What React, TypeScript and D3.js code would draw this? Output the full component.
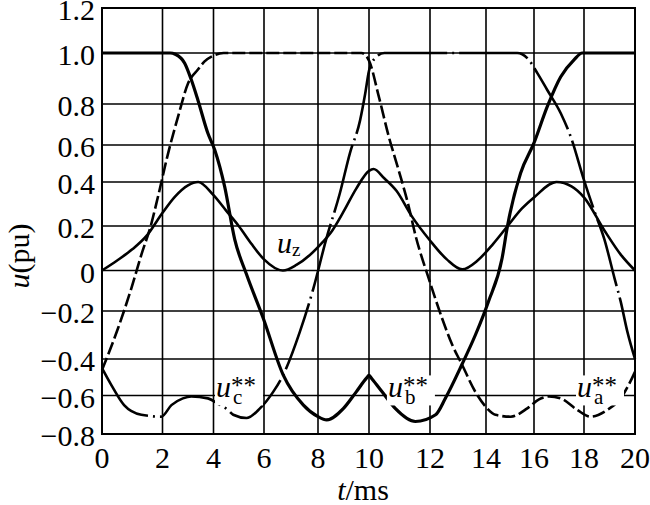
import React from "react";
import * as d3 from "d3";

const W = 650;
const H = 505;

const xTicks = [0, 2, 4, 6, 8, 10, 12, 14, 16, 18, 20];
const yTicks = [1.2, 1.0, 0.8, 0.6, 0.4, 0.2, 0, -0.2, -0.4, -0.6, -0.8];

// the scanned grid is not evenly spaced, so the scales follow it piece by piece
const xGrid = [102, 162.5, 213.5, 264, 318, 369, 430, 486, 534, 584, 635];
const yGrid = [8, 53, 104, 145, 182, 226, 270.5, 311, 359, 395.5, 434];

// u_z (zero sequence)
const uz: [number, number][] = [
  [0, 0], [0.5, 0.045], [1, 0.095], [1.5, 0.16], [2, 0.26], [2.5, 0.335], [3, 0.385],
  [3.4, 0.4], [4, 0.34], [4.5, 0.27], [5, 0.2], [5.5, 0.12], [6, 0.05], [6.7, 0],
  [7.2, 0.025], [7.7, 0.07], [8.2, 0.13], [8.5, 0.17], [9, 0.265], [9.5, 0.37],
  [10, 0.46], [10.15, 0.47], [10.5, 0.42], [10.9, 0.36], [11.4, 0.245], [12, 0.135],
  [12.6, 0.05], [13.15, 0.005], [13.7, 0.045], [14.3, 0.12], [14.9, 0.2], [15.5, 0.28],
  [16, 0.33], [16.9, 0.4], [17.5, 0.38], [18, 0.33], [18.8, 0.18], [19.45, 0.07], [20, 0],
];

// u_b** (thick solid)
const ub: [number, number][] = [
  [0, 1], [2.3, 1], [2.5, 0.995], [2.87, 0.96], [3.13, 0.895], [3.39, 0.815],
  [3.78, 0.657], [4.05, 0.573], [4.44, 0.38], [4.84, 0.14], [5.31, -0.02], [5.97, -0.23],
  [6.71, -0.487], [7.46, -0.65], [8.0, -0.71], [8.34, -0.727], [9.0, -0.667],
  [9.5, -0.58], [9.9, -0.505], [10, -0.49], [10.1, -0.51], [10.43, -0.58], [10.86, -0.667],
  [11.52, -0.735], [12.2, -0.7], [12.55, -0.614], [13.14, -0.43], [13.62, -0.3],
  [14.1, -0.154], [14.67, 0.055], [14.89, 0.197], [15.44, 0.447], [16, 0.61],
  [16.53, 0.787], [17.07, 0.907], [17.6, 0.973], [17.93, 1.0], [20, 1],
];

// u_a** (dashed)
const ua: [number, number][] = [
  [0, -0.46], [0.53, -0.272], [0.97, -0.088], [1.3, 0.07], [1.63, 0.21], [1.85, 0.333],
  [2.22, 0.555], [2.61, 0.738], [3.0, 0.88], [3.39, 0.935], [3.64, 0.966], [4.0, 0.99],
  [4.4, 1.0], [9.7, 1.0], [10.0, 0.97], [10.32, 0.83], [10.65, 0.64], [10.97, 0.465],
  [11.3, 0.29], [11.52, 0.16], [11.96, -0.04], [12.43, -0.23], [12.79, -0.34],
  [13.14, -0.43], [13.62, -0.58], [14.0, -0.66], [14.39, -0.7], [15.03, -0.71],
  [15.72, -0.667], [16.2, -0.62], [16.6, -0.605], [17.07, -0.615], [17.73, -0.675],
  [18.26, -0.71], [18.91, -0.675], [19.44, -0.615], [19.83, -0.52], [20, -0.47],
];

// u_c** (dash-dot)
const uc: [number, number][] = [
  [0, -0.45], [0.31, -0.543], [0.73, -0.65], [1.3, -0.7], [1.96, -0.71], [2.35, -0.65],
  [2.8, -0.615], [3.13, -0.605], [3.78, -0.615], [4.2, -0.645], [4.57, -0.675],
  [4.78, -0.7], [5.31, -0.717], [5.84, -0.667], [6.34, -0.58], [6.71, -0.487],
  [7.33, -0.286], [7.83, -0.088], [8.32, 0.14], [8.86, 0.35], [9.25, 0.555],
  [9.65, 0.72], [9.85, 0.84], [10.0, 0.93], [10.2, 0.98], [10.5, 1.0], [15.3, 1.0],
  [15.72, 0.98], [16.14, 0.92], [16.53, 0.855], [17.07, 0.755], [17.47, 0.64],
  [18, 0.41], [18.4, 0.27], [18.8, 0.14], [19.2, -0.04], [19.44, -0.154],
  [19.7, -0.286], [20, -0.4],
];

const labels = [
  { t: 4.1, u: -0.61, sub: "c" },
  { t: 10.62, u: -0.61, sub: "b" },
  { t: 17.72, u: -0.61, sub: "a" },
];

const FONT = "Liberation Serif, Times New Roman, DejaVu Serif, serif";

const fmtY = (v: number) => (v === 0 ? "0" : v < 0 ? "\u2212" + Math.abs(v).toFixed(1) : v.toFixed(1));

export default function App() {
  const x = d3.scaleLinear().domain(xTicks).range(xGrid);
  const y = d3.scaleLinear().domain(yTicks).range(yGrid);

  const line = d3
    .line<[number, number]>()
    .x((d) => x(d[0]))
    .y((d) => y(d[1]))
    .curve(d3.curveMonotoneX);

  const x0 = x(0), x1 = x(20), yTop = y(1.2), yBot = y(-0.8);

  return (
    <svg width={W} height={H} style={{ position: "absolute", left: 0, top: 0, background: "#fff", fontFamily: FONT }}>
      <rect width={W} height={H} fill="#fff" />
      <g stroke="#000" strokeWidth={1.6}>
        {xTicks.map((t) => (
          <line key={"gx" + t} x1={x(t)} x2={x(t)} y1={yTop} y2={yBot} />
        ))}
        {yTicks.map((v) => (
          <line key={"gy" + v} x1={x0} x2={x1} y1={y(v)} y2={y(v)} />
        ))}
        <rect x={x0} y={yTop} width={x1 - x0} height={yBot - yTop} fill="none" strokeWidth={2} />
      </g>

      <g fill="none" stroke="#000" strokeLinejoin="round">
        <path d={line(uz) ?? ""} strokeWidth={2.6} />
        <path d={line(ua) ?? ""} strokeWidth={2.6} strokeDasharray="13 4" />
        <path d={line(uc) ?? ""} strokeWidth={2.6} strokeDasharray="70 5 2 5" />
        <path d={line(ub) ?? ""} strokeWidth={3.2} />
      </g>

      <g fontSize={30} fill="#000">
        {yTicks.map((v) => (
          <text key={"ty" + v} x={95} y={y(v) + 12} textAnchor="end">
            {fmtY(v)}
          </text>
        ))}
        {xTicks.map((t) => (
          <text key={"tx" + t} x={x(t)} y={468} textAnchor="middle">
            {t}
          </text>
        ))}
        <text x={363} y={500} textAnchor="middle">
          <tspan fontStyle="italic">t</tspan>/ms
        </text>
        <text transform={`translate(29,256) rotate(-90)`} textAnchor="middle">
          <tspan fontStyle="italic">u</tspan>(pu)
        </text>
      </g>

      <g fill="#000">
        <text x={x(6.48)} y={y(0.08)} fontSize={30}>
          <tspan fontStyle="italic">u</tspan>
          <tspan fontSize={19} dy={3}>z</tspan>
        </text>
        {labels.map((l) => (
          <g key={l.sub} transform={`translate(${x(l.t)},${y(l.u)})`}>
            <rect x={-1} y={-22} width={48} height={30} fill="#fff" />
            <text x={0} y={0} fontSize={30}>
              <tspan fontStyle="italic">u</tspan>
              <tspan fontSize={25} dy={-3}>**</tspan>
              <tspan fontSize={21} x={17} dy={10}>{l.sub}</tspan>
            </text>
          </g>
        ))}
      </g>
    </svg>
  );
}
